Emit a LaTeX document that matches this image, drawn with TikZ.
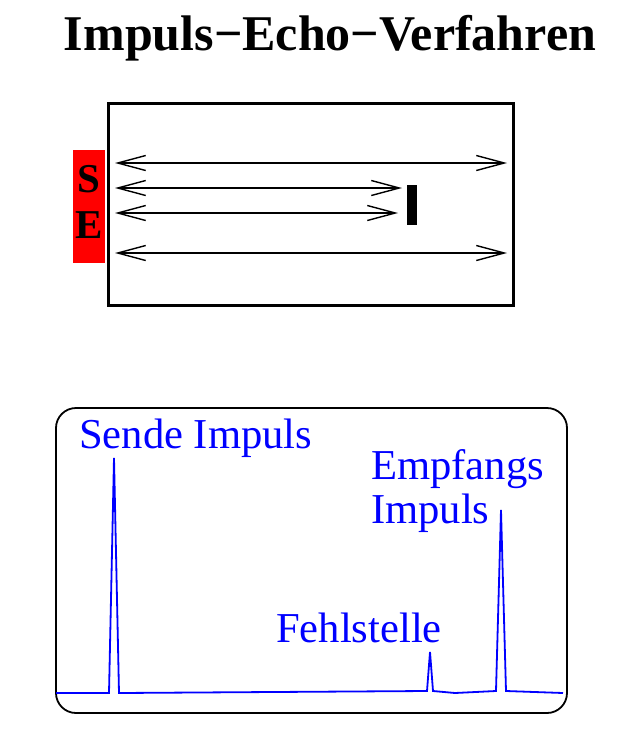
\documentclass[tikz,border=0pt]{standalone}
\usepackage{fontspec}
\setmainfont{Liberation Serif}
\usetikzlibrary{arrows.meta}
\definecolor{sered}{RGB}{255,0,0}
\definecolor{trace}{RGB}{0,0,255}
\tikzset{
  lbl/.style={inner sep=0pt, anchor=base west, text=trace, font=\fontsize{42.6}{42.6}\selectfont},
  dbl/.style={line width=1.4pt, {Straight Barb[length=28pt,width=15pt,line width=1.4pt]}-{Straight Barb[length=28pt,width=15pt,line width=1.4pt]}},
}
\begin{document}
\begin{tikzpicture}[x=1pt,y=-1pt]
\useasboundingbox (0,0) rectangle (628,732);
% title
\node[inner sep=0pt, anchor=base] (title) at (330,50) {\fontsize{50}{50}\selectfont\bfseries Impuls−Echo−Verfahren};
% specimen
\draw[line width=3pt] (108,103) rectangle (513,305);
\node[fill=sered, inner sep=0pt, minimum width=32pt, minimum height=113pt] (se) at (89,206.5) {};
\node[inner sep=0pt, anchor=base] (s) at (89,192) {\fontsize{41}{41}\selectfont\bfseries S};
\node[inner sep=0pt, anchor=base] (e) at (89,238) {\fontsize{41}{41}\selectfont\bfseries E};
\node[fill=black, inner sep=0pt, minimum width=10pt, minimum height=40pt] (flaw) at (412,205) {};
\coordinate (a1l) at (115,163); \coordinate (a1r) at (507,163);
\coordinate (a2l) at (115,188); \coordinate (a2r) at (402,188);
\coordinate (a3l) at (115,213); \coordinate (a3r) at (398,213);
\coordinate (a4l) at (115,253); \coordinate (a4r) at (507,253);
\draw[dbl] (a1l) -- (a1r);
\draw[dbl] (a2l) -- (a2r);
\draw[dbl] (a3l) -- (a3r);
\draw[dbl] (a4l) -- (a4r);
% screen
\draw[line width=1.8pt, rounded corners=20pt] (56,408) rectangle (567,713);
\draw[trace, line width=1.8pt, line join=miter]
  (56,693) -- (109,693) -- (114,458) -- (119,693) -- (427,691) -- (430,652) -- (433,691)
  -- (455,693) -- (496,691) -- (501,510) -- (506,691) -- (563,693);
\node[lbl] (send) at (79,448) {Sende Impuls};
\node[lbl] (emp1) at (371,479) {Empfangs};
\node[lbl] (emp2) at (371,523) {Impuls};
\node[lbl] (fehl) at (276,642) {Fehlstelle};
\end{tikzpicture}
\end{document}
